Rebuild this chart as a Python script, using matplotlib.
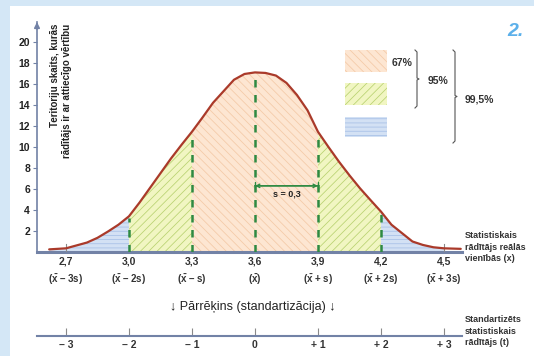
import numpy as np
import matplotlib
matplotlib.use("Agg")
import matplotlib.pyplot as plt
from matplotlib.patches import Rectangle
from matplotlib.transforms import blended_transform_factory

plt.rcParams['font.family'] = ['Liberation Sans', 'DejaVu Sans']
plt.rcParams['hatch.linewidth'] = 0.55
plt.rcParams['mathtext.fontset'] = 'custom'
plt.rcParams['mathtext.bf'] = 'Liberation Sans:bold'
plt.rcParams['mathtext.rm'] = 'Liberation Sans:bold'

# ---- data ----
x_vals = [2.62, 2.70, 2.80, 2.85, 2.90, 2.95, 3.00, 3.05, 3.10, 3.15, 3.20, 3.25,
          3.30, 3.35, 3.40, 3.45, 3.50, 3.55, 3.60, 3.65, 3.70, 3.75, 3.80, 3.85,
          3.90, 3.95, 4.00, 4.05, 4.10, 4.15, 4.20, 4.25, 4.30, 4.35, 4.40, 4.45,
          4.50, 4.58]
counts = [0.25, 0.35, 0.9, 1.35, 1.95, 2.6, 3.4, 4.7, 6.1, 7.5, 8.9, 10.2,
          11.45, 12.8, 14.2, 15.3, 16.4, 16.95, 17.1, 17.05, 16.8, 16.1, 14.95, 13.5,
          11.45, 10.0, 8.6, 7.3, 6.07, 4.95, 3.85, 2.6, 1.8, 1.0, 0.67, 0.45,
          0.35, 0.3]
mean_x = 3.6
s_val = 0.3
tick_x = [2.7, 3.0, 3.3, 3.6, 3.9, 4.2, 4.5]
tick_lab1 = ["2,7", "3,0", "3,3", "3,6", "3,9", "4,2", "4,5"]
xbar = r"$\mathbf{\bar{x}}$"
tick_lab2 = [f"({xbar} \u2013 3s)", f"({xbar} \u2013 2s)", f"({xbar} \u2013 s)", f"({xbar})",
             f"({xbar} + s)", f"({xbar} + 2s)", f"({xbar} + 3s)"]
t_labels = ["\u2013 3", "\u2013 2", "\u2013 1", "0", "+ 1", "+ 2", "+ 3"]
y_ticks = [2, 4, 6, 8, 10, 12, 14, 16, 18, 20]
band_67 = (3.3, 3.9)
band_95 = [(3.0, 3.3), (3.9, 4.2)]
band_995 = [(2.62, 3.0), (4.2, 4.5)]
legend_labels = ["67%", "95%", "99,5%"]

# ---- styles ----
W, H = 534, 356
orange_fc, orange_hc = '#fde6d2', '#f4c9a6'
green_fc, green_hc = '#f1f6c2', '#b9d270'
blue_fc, blue_hc = '#d3e1f4', '#a6bfe6'
axis_col = '#7282a6'
curve_col = '#aa3a2a'
dash_col = '#2e8a42'

fig = plt.figure(figsize=(W / 100, H / 100), dpi=100)
fig.patch.set_facecolor('#d4e7f6')
fig.add_artist(Rectangle((10 / W, 0), 1 - 10 / W, 1 - 6 / H, transform=fig.transFigure,
                         facecolor='white', edgecolor='none', zorder=-5))

left, right_px, top_px, base_px = 37, 462, 22, 252
ax = fig.add_axes([left / W, 1 - base_px / H, (right_px - left) / W, (base_px - top_px) / H])
ax.set_facecolor('none')
ax.set_xlim(2.562, 4.586)
ax.set_ylim(0, 21.9)

x = np.array(x_vals)
y = np.array(counts)

def fill(a, b, fc, hc, hatch):
    m = (x >= a - 1e-9) & (x <= b + 1e-9)
    ax.fill_between(x[m], 0, y[m], facecolor=fc, edgecolor=hc, hatch=hatch,
                    linewidth=0, zorder=1)

fill(band_67[0], band_67[1], orange_fc, orange_hc, '\\\\\\\\')
for a, b in band_95:
    fill(a, b, green_fc, green_hc, '////')
for a, b in band_995:
    fill(a, b, blue_fc, blue_hc, '----')

ax.plot(x, y, color=curve_col, lw=1.6, zorder=4, solid_capstyle='round',
        solid_joinstyle='round')

for tx in tick_x[1:-1]:
    yv = y[np.argmin(np.abs(x - tx))]
    ax.plot([tx, tx], [0, yv - 0.2], color=dash_col, lw=1.8, dashes=(3, 3), zorder=3)
for tx in (tick_x[0], tick_x[-1]):
    ax.plot([tx, tx], [0, 0.8], color='#8a8a8a', lw=0.8, zorder=3)

# s annotation
ax.annotate('', xy=(mean_x, 6.3), xytext=(mean_x + s_val, 6.3),
            arrowprops=dict(arrowstyle='<->', color=dash_col, lw=1.0,
                            shrinkA=0, shrinkB=0, mutation_scale=6), zorder=5)
ax.annotate('', xy=(mean_x, 6.3), xytext=(mean_x + s_val, 6.3),
            arrowprops=dict(arrowstyle='|-|,widthA=0.25,widthB=0.25', color=dash_col, lw=1.0,
                            shrinkA=0, shrinkB=0), zorder=5)
ax.text(mean_x + s_val / 2, 5.55, 's = 0,3', ha='center', va='center',
        fontsize=6.5, fontweight='bold', color='#222222', zorder=6)

# spines / axes
for sp in ('top', 'right'):
    ax.spines[sp].set_visible(False)
ax.spines['left'].set_color(axis_col)
ax.spines['left'].set_linewidth(1.2)
ax.spines['bottom'].set_color(axis_col)
ax.spines['bottom'].set_linewidth(2.2)
ax.annotate('', xy=(0, 1.0), xytext=(0, 0.97), xycoords='axes fraction',
            arrowprops=dict(arrowstyle='-|>', color=axis_col, lw=1.2,
                            mutation_scale=8, shrinkA=0, shrinkB=0))
ax.set_yticks(y_ticks)
ax.set_yticklabels([str(v) for v in y_ticks], fontsize=7.5, fontweight='bold', color='#222222')
ax.tick_params(axis='y', length=3, width=0.8, color=axis_col, pad=2)
ax.set_xticks([])

tr = blended_transform_factory(ax.transData, ax.transAxes)
for tx, l1, l2 in zip(tick_x, tick_lab1, tick_lab2):
    ax.text(tx, (base_px - 262) / (base_px - top_px), l1, transform=tr, ha='center', va='center',
            fontsize=7.5, fontweight='bold', color='#333333')
    ax.text(tx, (base_px - 280) / (base_px - top_px), l2, transform=tr, ha='center', va='center',
            fontsize=7, fontweight='bold', color='#333333')

# standardized axis
ax2 = fig.add_axes([left / W, 1 - 336 / H, (right_px - left) / W, 0.02])
ax2.set_facecolor('none')
ax2.set_xlim(ax.get_xlim())
for sp in ('top', 'right', 'left'):
    ax2.spines[sp].set_visible(False)
ax2.spines['bottom'].set_color(axis_col)
ax2.spines['bottom'].set_linewidth(1.5)
ax2.set_yticks([])
ax2.set_xticks(tick_x)
ax2.set_xticklabels(t_labels, fontsize=7.5, fontweight='bold', color='#333333')
ax2.tick_params(axis='x', direction='in', length=6, width=0.8, color='#8a8a8a', pad=3)

# overlay in pixel coordinates
ov = fig.add_axes([0, 0, 1, 1], zorder=10)
ov.set_xlim(0, W)
ov.set_ylim(H, 0)
ov.axis('off')
ov.patch.set_visible(False)

ov.text(61, 24, 'Teritoriju skaits, kurās\nrādītājs ir ar attiecīgo vērtību', rotation=90,
        ha='center', va='top', multialignment='right', fontsize=7, fontweight='bold',
        color='#222222', linespacing=1.2)
ov.text(253, 307, '\u2193 Pārrēķins (standartizācija) \u2193', ha='center', va='center',
        fontsize=9, color='#222222')
ov.text(465, 247, 'Statistiskais\nrādītājs reālās\nvienībās (x)', ha='left', va='center',
        fontsize=6.5, fontweight='bold', color='#333333', linespacing=1.3)
ov.text(465, 331, 'Standartizēts\nstatistiskais\nrādītājs (t)', ha='left', va='center',
        fontsize=6.5, fontweight='bold', color='#333333', linespacing=1.3)
ov.text(515, 31, '2.', ha='center', va='center', fontsize=14, fontweight='bold',
        fontstyle='italic', color='#5cb0ea')

# legend boxes
for (y0, y1), fc, hc, hatch in [((50, 72), orange_fc, orange_hc, '\\\\\\\\'),
                                ((83, 105), green_fc, green_hc, '////'),
                                ((117, 137), blue_fc, blue_hc, '----')]:
    ov.add_patch(Rectangle((345, y0), 42, y1 - y0, facecolor=fc, edgecolor=hc,
                           hatch=hatch, linewidth=0))
ov.text(392, 63, legend_labels[0], ha='left', va='center', fontsize=7.5, fontweight='bold', color='#333333')
ov.text(428, 81, legend_labels[1], ha='left', va='center', fontsize=7.5, fontweight='bold', color='#333333')
ov.text(465, 99, legend_labels[2], ha='left', va='center', fontsize=7.5, fontweight='bold', color='#333333')

def brace(xb, y0, y1):
    ym = (y0 + y1) / 2
    ov.plot([xb - 2, xb, xb, xb + 2, xb, xb, xb - 2],
            [y0, y0 + 2, ym - 1, ym, ym + 1, y1 - 2, y1], color='#555555', lw=0.8)

brace(417, 50, 108)
brace(455, 50, 143)

fig.savefig('out.png', dpi=100, facecolor=fig.get_facecolor())
